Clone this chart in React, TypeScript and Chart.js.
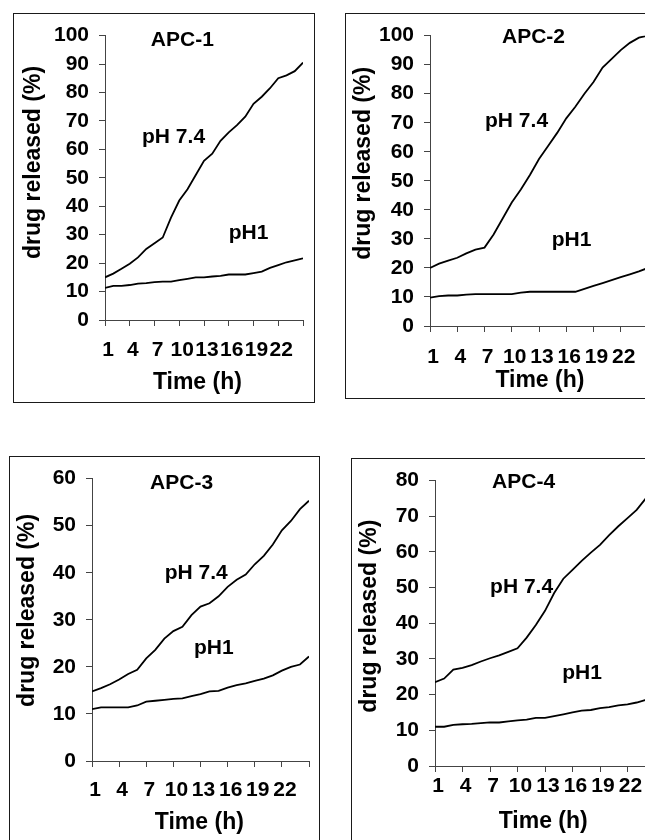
import React, { useEffect, useRef } from 'react';
import { Chart, registerables } from 'chart.js';

Chart.register(...registerables);

// ---- data ----
const hours = [1, 2, 3, 4, 5, 6, 7, 8, 9, 10, 11, 12, 13, 14, 15, 16, 17, 18, 19, 20, 21, 22, 23, 24, 25];
const xTickLabels = ['1', '4', '7', '10', '13', '16', '19', '22'];
const panelTitles = ['APC-1', 'APC-2', 'APC-3', 'APC-4'];
const seriesNames = ['pH 7.4', 'pH1'];
const yMaxes = [100, 100, 60, 80];

const apc1Ph74 = [15, 16.3, 18, 19.8, 22, 25, 27, 29, 36, 42, 46, 51, 56, 58.5, 63, 66, 68.5, 71.5, 76, 78.5, 81.5, 85, 86, 87.5, 90.5];
const apc1Ph1 = [11.3, 12, 12, 12.3, 12.8, 13, 13.3, 13.5, 13.5, 14, 14.5, 15, 15, 15.3, 15.5, 16, 16, 16, 16.5, 17, 18.3, 19.3, 20.3, 21, 21.7];

const apc2Ph74 = [20, 21.5, 22.5, 23.5, 25, 26.3, 27, 31.5, 37, 42.5, 47, 52, 57.5, 62, 66.5, 71.5, 75.5, 80, 84, 89, 92, 95, 97.5, 99.3, 100];
const apc2Ph1 = [9.8, 10.3, 10.5, 10.5, 10.8, 11, 11, 11, 11, 11, 11.5, 11.8, 11.8, 11.8, 11.8, 11.8, 11.8, 12.8, 13.8, 14.8, 15.8, 16.8, 17.8, 18.8, 20];

const apc3Ph74 = [14.8, 15.5, 16.3, 17.3, 18.5, 19.4, 21.8, 23.6, 26, 27.6, 28.5, 31, 32.8, 33.5, 35, 37, 38.5, 39.6, 41.8, 43.6, 46, 49, 51, 53.5, 55.3];
const apc3Ph1 = [11, 11.4, 11.4, 11.4, 11.4, 11.8, 12.6, 12.8, 13, 13.2, 13.3, 13.8, 14.2, 14.8, 14.9, 15.6, 16.1, 16.5, 17, 17.5, 18.2, 19.2, 20, 20.5, 22.2];

const apc4Ph74 = [23.5, 24.5, 27, 27.5, 28.3, 29.3, 30.2, 31, 32, 33, 36, 39.5, 43.5, 48.5, 52.5, 55, 57.5, 59.8, 62, 64.7, 67.2, 69.5, 71.8, 75, 78];
const apc4Ph1 = [11, 11, 11.5, 11.7, 11.8, 12, 12.2, 12.2, 12.5, 12.8, 13, 13.5, 13.5, 14, 14.5, 15, 15.5, 15.7, 16.2, 16.5, 17, 17.3, 17.8, 18.5, 19];

const xTitleText = 'Time (h)';
const yTitleText = 'drug released (%)';

// ---- layout (page pixels) ----
const FONT_FAMILY = '"Liberation Sans", Arial, Helvetica, sans-serif';
const FONT_SIZE = 21;
const TITLE_FONT_SIZE = 23;

type Rect = { left: number; top: number; right: number; bottom: number };
type Note = { t: number; v: number };
type PanelCfg = {
  title: string;
  yMax: number;
  ph74: number[];
  ph1: number[];
  box: Rect;
  plot: Rect;
  xTickPad: number;
  xTitle: { t: number; dy: number };
  yTitle: { x: number; v: number };
  notes: [Note, Note, Note];
};

const panels: PanelCfg[] = [
  {
    title: panelTitles[0], yMax: yMaxes[0], ph74: apc1Ph74, ph1: apc1Ph1,
    box: { left: 13, top: 13, right: 315, bottom: 403 },
    plot: { left: 105, top: 33, right: 308, bottom: 320 },
    xTickPad: 12,
    xTitle: { t: 12.2, dy: 69 },
    yTitle: { x: 27.1, v: 55.4 },
    notes: [{ t: 6.56, v: 96.5 }, { t: 5.49, v: 62.4 }, { t: 16.0, v: 28.6 }],
  },
  {
    title: panelTitles[1], yMax: yMaxes[1], ph74: apc2Ph74, ph1: apc2Ph1,
    box: { left: 345, top: 13, right: 670, bottom: 399 },
    plot: { left: 430, top: 35, right: 648, bottom: 326 },
    xTickPad: 13,
    xTitle: { t: 13.1, dy: 61 },
    yTitle: { x: 24.5, v: 56 },
    notes: [{ t: 8.93, v: 97.6 }, { t: 7.06, v: 68.4 }, { t: 14.4, v: 27.5 }],
  },
  {
    title: panelTitles[2], yMax: yMaxes[2], ph74: apc3Ph74, ph1: apc3Ph1,
    box: { left: 9, top: 456, right: 320, bottom: 860 },
    plot: { left: 92, top: 474, right: 315, bottom: 761 },
    xTickPad: 11,
    xTitle: { t: 12.87, dy: 68 },
    yTitle: { x: 25, v: 32 },
    notes: [{ t: 7.42, v: 57.7 }, { t: 9.04, v: 38.7 }, { t: 12.27, v: 22.8 }],
  },
  {
    title: panelTitles[3], yMax: yMaxes[3], ph74: apc4Ph74, ph1: apc4Ph1,
    box: { left: 351, top: 458, right: 670, bottom: 860 },
    plot: { left: 435, top: 479, right: 655, bottom: 766 },
    xTickPad: 2,
    xTitle: { t: 12.8, dy: 62 },
    yTitle: { x: 25, v: 42 },
    notes: [{ t: 7.23, v: 77.8 }, { t: 7.01, v: 48.5 }, { t: 14.88, v: 24.5 }],
  },
];

function makeTextPlugin(p: PanelCfg) {
  return {
    id: 'panelTexts',
    afterDraw(chart: any) {
      const { ctx, chartArea } = chart;
      const xs = chart.scales.x;
      const ys = chart.scales.y;
      ctx.save();
      ctx.font = `bold ${FONT_SIZE}px ${FONT_FAMILY}`;
      ctx.fillStyle = '#000';
      ctx.textBaseline = 'alphabetic';
      ctx.textAlign = 'left';
      const texts = [p.title, seriesNames[0], seriesNames[1]];
      p.notes.forEach((n, i) => {
        ctx.fillText(texts[i], xs.getPixelForValue(n.t), ys.getPixelForValue(n.v));
      });
      ctx.font = `bold ${TITLE_FONT_SIZE}px ${FONT_FAMILY}`;
      ctx.textAlign = 'center';
      ctx.fillText(xTitleText, xs.getPixelForValue(p.xTitle.t), chartArea.bottom + p.xTitle.dy);
      ctx.translate(p.yTitle.x, ys.getPixelForValue(p.yTitle.v));
      ctx.rotate(-Math.PI / 2);
      ctx.fillText(yTitleText, 0, 0);
      ctx.restore();
    },
  };
}

function Panel({ p }: { p: PanelCfg }) {
  const ref = useRef<HTMLCanvasElement>(null);
  const w = p.box.right - p.box.left;
  const h = p.box.bottom - p.box.top;

  useEffect(() => {
    if (!ref.current) return;
    const yW = p.plot.left - p.box.left;
    const xH = p.box.bottom - p.plot.bottom;
    const font = { family: FONT_FAMILY, size: FONT_SIZE, weight: 'bold' as const };
    const axisColor = '#444';
    const chart = new Chart(ref.current, {
      type: 'line',
      data: {
        datasets: [
          {
            label: seriesNames[0],
            data: hours.map((t, i) => ({ x: t, y: p.ph74[i] })),
            borderColor: '#000',
            borderWidth: 1.8,
            pointRadius: 0,
            tension: 0,
            fill: false,
          },
          {
            label: seriesNames[1],
            data: hours.map((t, i) => ({ x: t, y: p.ph1[i] })),
            borderColor: '#000',
            borderWidth: 1.8,
            pointRadius: 0,
            tension: 0,
            fill: false,
          },
        ],
      },
      options: {
        responsive: false,
        animation: false,
        devicePixelRatio: 1,
        layout: {
          padding: { top: p.plot.top - p.box.top, right: p.box.right - p.plot.right, left: 0, bottom: 0 },
        },
        plugins: {
          legend: { display: false },
          tooltip: { enabled: false },
          title: { display: false },
        },
        scales: {
          x: {
            type: 'linear',
            min: 1,
            max: 25,
            afterFit: (s: any) => { s.height = xH; },
            ticks: {
              stepSize: 3,
              autoSkip: false,
              maxRotation: 0,
              minRotation: 0,
              padding: p.xTickPad,
              labelOffset: 3,
              font,
              color: '#000',
              callback: (v: any) => (xTickLabels.includes(String(v)) ? String(v) : ''),
            },
            grid: { display: true, drawOnChartArea: false, drawTicks: true, tickLength: 6, color: axisColor, lineWidth: 1 },
            border: { display: true, color: axisColor, width: 1 },
          },
          y: {
            type: 'linear',
            min: 0,
            max: p.yMax,
            afterFit: (s: any) => { s.width = yW; },
            ticks: { stepSize: 10, padding: 10, font, color: '#000' },
            grid: { display: true, drawOnChartArea: false, drawTicks: true, tickLength: 6, color: axisColor, lineWidth: 1 },
            border: { display: true, color: axisColor, width: 1 },
          },
        },
      },
      plugins: [makeTextPlugin(p)],
    } as any);
    return () => chart.destroy();
  }, [p]);

  return (
    <>
      <canvas
        ref={ref}
        width={w}
        height={h}
        style={{ position: 'absolute', left: p.box.left, top: p.box.top, width: w, height: h }}
      />
      <div
        style={{
          position: 'absolute',
          left: p.box.left,
          top: p.box.top,
          width: w,
          height: h,
          border: '1.5px solid #1a1a1a',
          boxSizing: 'border-box',
          pointerEvents: 'none',
        }}
      />
    </>
  );
}

export default function App() {
  return (
    <div
      style={{
        position: 'absolute',
        left: 0,
        top: 0,
        width: 645,
        height: 840,
        overflow: 'hidden',
        background: '#fff',
      }}
    >
      {panels.map((p, i) => (
        <Panel key={i} p={p} />
      ))}
    </div>
  );
}
